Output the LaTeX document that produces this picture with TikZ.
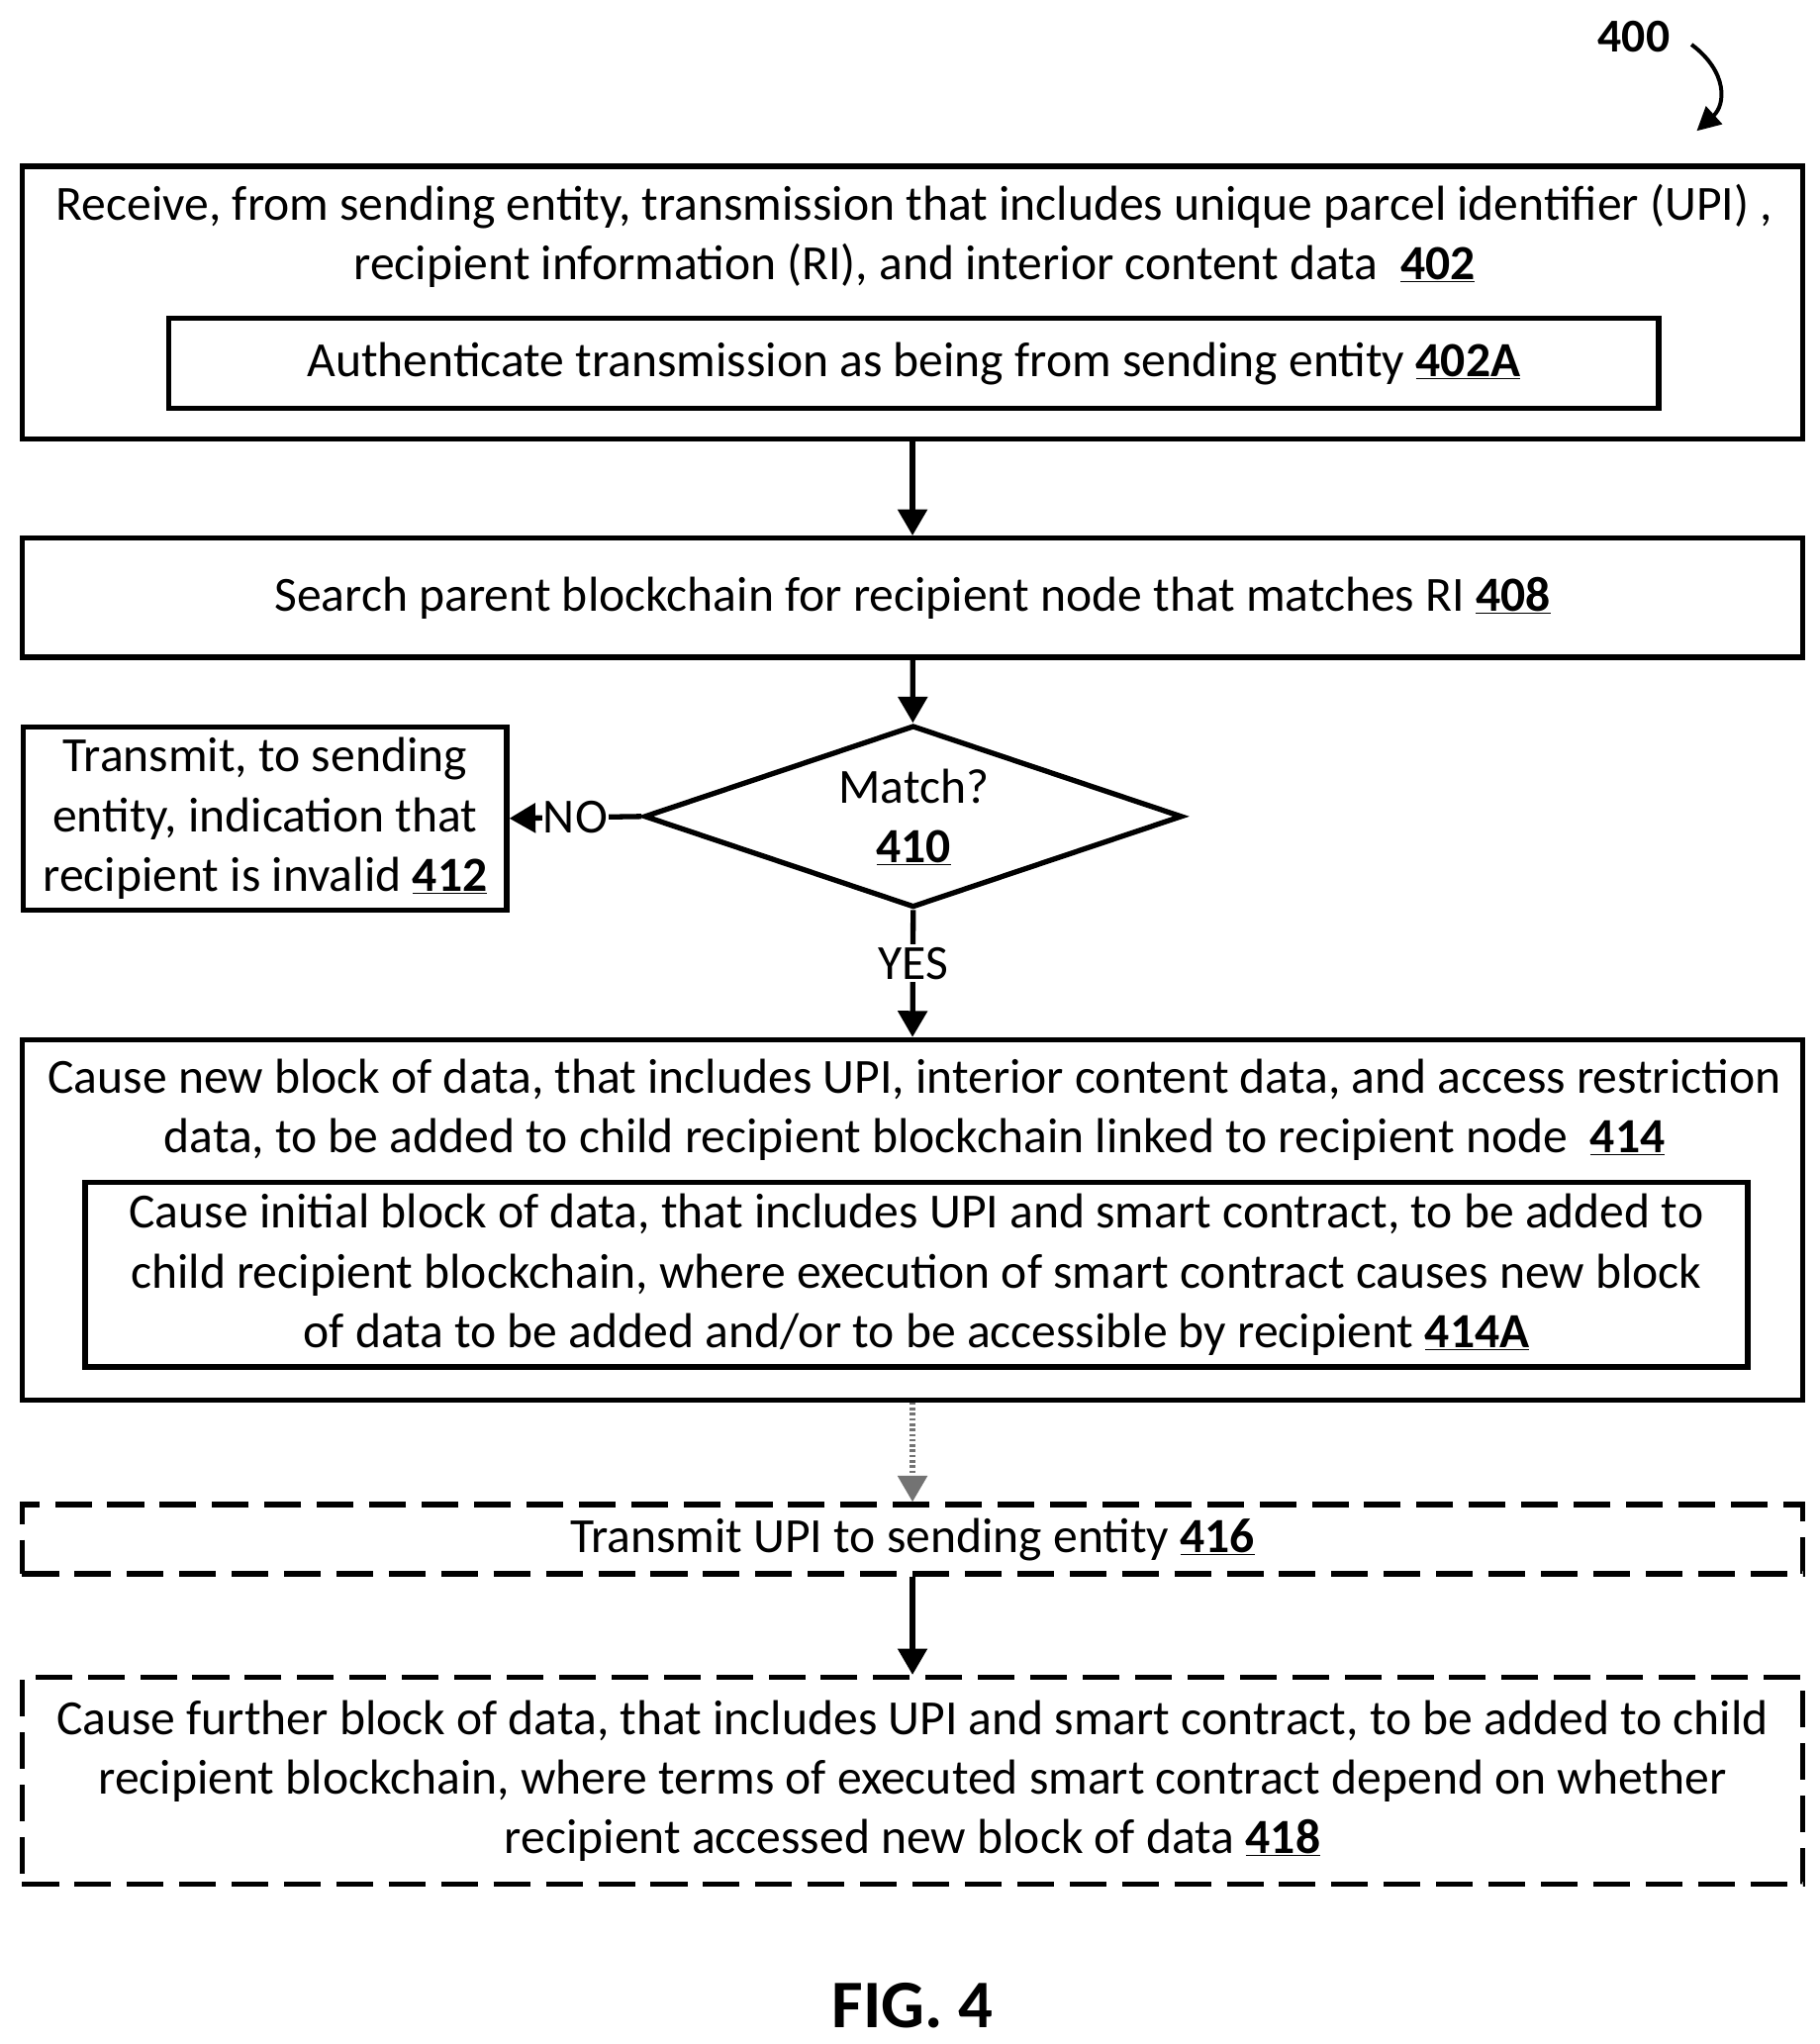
\documentclass[tikz,border=0pt]{standalone}
\usepackage{fontspec}
\setmainfont{Carlito}
\usetikzlibrary{arrows.meta,shapes.geometric}
\newcommand{\num}[1]{\underline{\textbf{#1}}}
\begin{document}
\begin{tikzpicture}[x=1pt,y=-1pt,
    box/.style={draw,line width=4pt,inner sep=0pt},
    dbox/.style={box,dash pattern=on 28pt off 12pt},
    txt/.style={align=center,font=\fontsize{37.5}{45.5}\selectfont,inner sep=0pt},
    flow/.style={line width=4pt,-{Triangle[length=20pt,width=22pt]}}]
    \useasboundingbox (0,0) rectangle (1390,1561);
    % top label
    \node[font=\fontsize{36}{36}\selectfont\bfseries] (lbl) at (1248,28) {400};
    \draw[line width=3pt,-{Triangle[length=18pt,width=18pt]}] (1292,34) .. controls (1320,55) and (1318,80) .. (1296,100);
    % 402
    \node[box,minimum width=1360,minimum height=208] (n402) at (697,231) {};
    \node[txt] (t402) at (698.5,180) {Receive, from sending entity, transmission that includes unique parcel identifier (UPI) ,\\ recipient information (RI), and interior content data \ \num{402}};
    \node[box,minimum width=1138,minimum height=69,txt] (n402a) at (698,277.5) {Authenticate transmission as being from sending entity \num{402A}};
    % 408
    \node[box,minimum width=1360,minimum height=91,txt] (n408) at (697,456.5) {Search parent blockchain for recipient node that matches RI \num{408}};
    % 410
    \node[draw,line width=4pt,diamond,aspect=2.94,minimum width=411,minimum height=139,inner sep=0pt] (n410) at (697.5,623.5) {};
    \node[txt] (t410) at (698,624) {Match?\\\num{410}};
    % 412
    \node[box,minimum width=369,minimum height=140,txt] (n412) at (202.5,625) {Transmit, to sending\\entity, indication that\\recipient is invalid \num{412}};
    % 414
    \node[box,minimum width=1360,minimum height=275] (n414) at (697,931.5) {};
    \node[txt] (t414) at (698.5,847.5) {Cause new block of data, that includes UPI, interior content data, and access restriction\\data, to be added to child recipient blockchain linked to recipient node \ \num{414}};
    \node[box,minimum width=1270,minimum height=141,txt] (n414a) at (700,973.5) {Cause initial block of data, that includes UPI and smart contract, to be added to\\child recipient blockchain, where execution of smart contract causes new block\\of data to be added and/or to be accessible by recipient \num{414A}};
    % 416
    \node[dbox,minimum width=1360,minimum height=53,txt] (n416) at (697,1175.5) {Transmit UPI to sending entity \num{416}};
    % 418
    \node[dbox,minimum width=1360,minimum height=158,txt] (n418) at (697,1360) {Cause further block of data, that includes UPI and smart contract, to be added to child\\recipient blockchain, where terms of executed smart contract depend on whether\\recipient accessed new block of data \num{418}};
    % connectors
    \draw[flow] (n402) -- (n408);
    \draw[flow] (n408) -- (n410);
    \draw[flow] (n410.west) -- node[fill=white,txt,inner sep=1pt] (no) {NO} (n412.east);
    \draw[flow] (n410.south) -- node[fill=white,txt,inner sep=2pt,pos=0.42] (yes) {YES} (n414.north);
    \draw[flow,black!55,dash pattern=on 2pt off 2pt] (n414) -- (n416);
    \draw[flow] (n416) -- (n418);
    \node[font=\fontsize{52}{52}\selectfont\bfseries] (fig) at (697,1532) {FIG. 4};
\end{tikzpicture}
\end{document}
